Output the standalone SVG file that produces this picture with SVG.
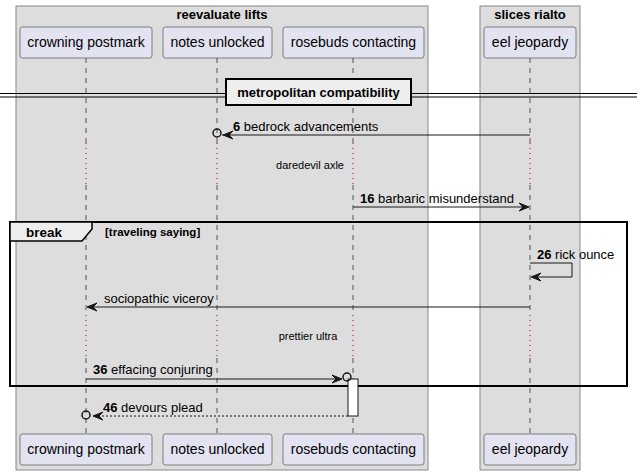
<svg xmlns="http://www.w3.org/2000/svg" width="643" height="475" viewBox="0 0 643 475">
<style>
.grp{fill:#DDDDDD;stroke:#888888;stroke-width:1}
.gt{font-family:"Liberation Sans",Arial,sans-serif;font-size:13px;font-weight:bold;fill:#000;text-anchor:middle}
.pb{fill:#E2E2F0;stroke:#181818;stroke-width:0.5}
.pt{font-family:"Liberation Sans",Arial,sans-serif;font-size:14px;fill:#000;text-anchor:middle}
.ll{stroke:#555555;stroke-width:1;stroke-dasharray:5,5;fill:none}
.dl{stroke:#A80036;stroke-width:1;stroke-dasharray:1,4;fill:none}
.msg{stroke:#181818;stroke-width:1;fill:none}
.dash{stroke:#181818;stroke-width:1;fill:none;stroke-dasharray:2,2}
.ah{fill:#181818;stroke:#181818;stroke-width:1}
.mt{font-family:"Liberation Sans",Arial,sans-serif;font-size:13px;fill:#000}
.num{font-weight:bold}
.st{font-family:"Liberation Sans",Arial,sans-serif;font-size:11px;fill:#000;text-anchor:middle}
.circ{fill:none;stroke:#181818;stroke-width:1.5}
</style>
<defs>
<polygon id="ahL" points="0,0 10,-4 6,0 10,4"/>
<polygon id="ahR" points="0,0 -10,-4 -6,0 -10,4"/>
</defs>
<g id="box-reevaluate-lifts">
<rect class="grp" x="16" y="6" width="412" height="464"/>
<text class="gt" x="222" y="19">reevaluate lifts</text>
</g>
<g id="box-slices-rialto">
<rect class="grp" x="480" y="6" width="100" height="464"/>
<text class="gt" x="530" y="19">slices rialto</text>
</g>
<g id="lifelines">
<path class="ll" d="M86,58V143M86,185V315M86,358V433"/>
<path class="dl" d="M86,143V185M86,315V358"/>
<path class="ll" d="M217,58V143M217,185V315M217,358V433"/>
<path class="dl" d="M217,143V185M217,315V358"/>
<path class="ll" d="M353,58V143M353,185V315M353,358V433"/>
<path class="dl" d="M353,143V185M353,315V358"/>
<path class="ll" d="M530,58V143M530,185V315M530,358V433"/>
<path class="dl" d="M530,143V185M530,315V358"/>
</g>
<g id="crowning-postmark">
<rect class="pb" x="20" y="27" width="132" height="31" rx="2.5"/>
<text class="pt" x="86" y="47">crowning postmark</text>
<rect class="pb" x="20" y="434" width="132" height="31" rx="2.5"/>
<text class="pt" x="86" y="454">crowning postmark</text>
</g>
<g id="notes-unlocked">
<rect class="pb" x="163" y="27" width="109" height="31" rx="2.5"/>
<text class="pt" x="217.5" y="47">notes unlocked</text>
<rect class="pb" x="163" y="434" width="109" height="31" rx="2.5"/>
<text class="pt" x="217.5" y="454">notes unlocked</text>
</g>
<g id="rosebuds-contacting">
<rect class="pb" x="283" y="27" width="141" height="31" rx="2.5"/>
<text class="pt" x="353.5" y="47">rosebuds contacting</text>
<rect class="pb" x="283" y="434" width="141" height="31" rx="2.5"/>
<text class="pt" x="353.5" y="454">rosebuds contacting</text>
</g>
<g id="eel-jeopardy">
<rect class="pb" x="484" y="27" width="92" height="31" rx="2.5"/>
<text class="pt" x="530" y="47">eel jeopardy</text>
<rect class="pb" x="484" y="434" width="92" height="31" rx="2.5"/>
<text class="pt" x="530" y="454">eel jeopardy</text>
</g>
<g id="divider">
<line x1="0" y1="93.5" x2="637" y2="93.5" stroke="#000" stroke-width="1"/>
<line x1="0" y1="97" x2="637" y2="97" stroke="#000" stroke-width="1"/>
<rect x="226" y="79" width="185" height="26" fill="#EEEEEE" stroke="#000" stroke-width="2"/>
<text class="gt" x="318.5" y="97">metropolitan compatibility</text>
</g>
<g id="delays">
<text class="st" x="310" y="169">daredevil axle</text>
<text class="st" x="308" y="340">prettier ultra</text>
</g>
<g id="break-frame">
<rect x="10" y="222" width="617" height="164" fill="none" stroke="#000" stroke-width="2"/>
<path d="M10,222H92V229L82,241H10Z" fill="#EEEEEE" stroke="#000" stroke-width="1.5"/>
<text x="26" y="237" font-family="Liberation Sans, Arial, sans-serif" font-size="13.5" font-weight="bold">break</text>
<text x="105" y="236" font-family="Liberation Sans, Arial, sans-serif" font-size="11.5" font-weight="bold">[traveling saying]</text>
</g>
<g id="activation">
<rect x="348" y="379" width="10" height="37" fill="#FFFFFF" stroke="#181818" stroke-width="1"/>
</g>
<g id="connectors">
<line class="msg" x1="530" y1="135" x2="222" y2="135"/>
<use href="#ahL" class="ah" x="223" y="135"/>
<circle class="circ" cx="217" cy="133" r="4"/>
<text class="mt" x="233" y="131"><tspan class="num">6</tspan> bedrock advancements</text>

<line class="msg" x1="353" y1="207" x2="528" y2="207"/>
<use href="#ahR" class="ah" x="529" y="207"/>
<text class="mt" x="360" y="203"><tspan class="num">16</tspan> barbaric misunderstand</text>

<path class="msg" d="M530,263H572V277H532"/>
<use href="#ahL" class="ah" x="531" y="277"/>
<text class="mt" x="537" y="259"><tspan class="num">26</tspan> rick ounce</text>

<line class="msg" x1="530" y1="307" x2="88" y2="307"/>
<use href="#ahL" class="ah" x="87" y="307"/>
<text class="mt" x="104" y="303">sociopathic viceroy</text>

<line class="msg" x1="86" y1="379" x2="340" y2="379"/>
<use href="#ahR" class="ah" x="342" y="379"/>
<circle class="circ" cx="347" cy="377" r="4"/>
<text class="mt" x="93" y="374"><tspan class="num">36</tspan> effacing conjuring</text>

<line class="dash" x1="348" y1="416" x2="94" y2="416"/>
<use href="#ahL" class="ah" x="93" y="416"/>
<circle class="circ" cx="86" cy="415" r="4"/>
<text class="mt" x="103" y="412"><tspan class="num">46</tspan> devours plead</text>
</g>
</svg>
